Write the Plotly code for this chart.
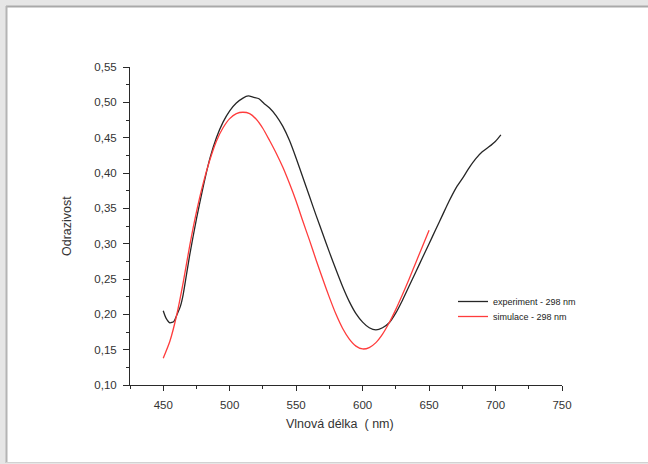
import plotly.graph_objects as go

# ---- data ----
exp_nm = [450, 452, 455, 458, 460, 463, 465, 470, 475, 480, 485, 490, 495, 500, 505,
          510, 514, 518, 522, 526, 530, 535, 540, 545, 550, 555, 560, 565, 570, 575,
          580, 585, 590, 595, 600, 605, 610, 615, 620, 625, 630, 635, 640, 645, 650,
          655, 660, 665, 670, 675, 680, 685, 690, 695, 700, 704]
exp_val = [0.205, 0.195, 0.188, 0.190, 0.198, 0.212, 0.228, 0.285, 0.335, 0.380, 0.420,
           0.450, 0.472, 0.488, 0.499, 0.506, 0.509, 0.507, 0.505, 0.498, 0.492, 0.481,
           0.466, 0.446, 0.421, 0.394, 0.367, 0.340, 0.314, 0.288, 0.263, 0.239, 0.218,
           0.201, 0.189, 0.181, 0.178, 0.181, 0.188, 0.202, 0.220, 0.240, 0.260, 0.280,
           0.300, 0.320, 0.340, 0.360, 0.378, 0.392, 0.407, 0.420, 0.430, 0.437, 0.445,
           0.454]

sim_nm = [450, 455, 460, 465, 470, 475, 480, 485, 490, 495, 500, 505, 510, 515, 520,
          525, 530, 535, 540, 545, 550, 555, 560, 565, 570, 575, 580, 585, 590, 595,
          600, 605, 610, 615, 620, 625, 630, 635, 640, 645, 650]
sim_val = [0.138, 0.162, 0.198, 0.245, 0.298, 0.345, 0.385, 0.418, 0.445, 0.464, 0.477,
           0.484, 0.486, 0.484, 0.476, 0.463, 0.446, 0.428, 0.408, 0.385, 0.360, 0.332,
           0.305, 0.277, 0.250, 0.224, 0.200, 0.180, 0.165, 0.155, 0.151, 0.153, 0.160,
           0.172, 0.188, 0.207, 0.228, 0.250, 0.273, 0.296, 0.319]

series_names = ["experiment - 298 nm", "simulace - 298 nm"]
x_title = "Vlnová délka\u00a0 ( nm)"
y_title = "Odrazivost"

# ---- layout geometry (pixels) ----
W, H = 648, 464
L, T = 130, 67
PW, PH = 432, 318
R = W - L - PW
B = H - T - PH


def px(x):
    return (x - L) / PW


def py(y):
    return (T + PH - y) / PH


FONT = "Liberation Sans, Arial, sans-serif"
AX = "#2a2a2a"

fig = go.Figure()
fig.add_trace(go.Scatter(x=exp_nm, y=exp_val, mode="lines", name=series_names[0], legend="legend",
                         line=dict(color="#262626", width=1.3, shape="spline", smoothing=0.6)))
fig.add_trace(go.Scatter(x=sim_nm, y=sim_val, mode="lines", name=series_names[1], legend="legend2",
                         line=dict(color="#ff3c3c", width=1.3, shape="spline", smoothing=0.6)))

shapes = [
    dict(type="rect", xref="paper", yref="paper", x0=px(7), x1=px(660), y0=py(462), y1=py(7),
         fillcolor="white", line=dict(width=0), layer="below"),
    dict(type="line", xref="paper", yref="paper", x0=px(6), x1=px(660), y0=py(6.5), y1=py(6.5),
         line=dict(color="#a9a9a9", width=2), layer="below"),
    dict(type="line", xref="paper", yref="paper", x0=px(6.5), x1=px(6.5), y0=py(463), y1=py(6),
         line=dict(color="#b4b4b4", width=2), layer="below"),
    dict(type="line", xref="paper", yref="paper", x0=px(6), x1=px(660), y0=py(462.5), y1=py(462.5),
         line=dict(color="#d2d2d2", width=1), layer="below"),
]

annotations = [
    dict(text=x_title, xref="paper", yref="paper", x=px(340), y=py(424), showarrow=False,
         xanchor="center", yanchor="middle", font=dict(family=FONT, size=12.5, color="#333")),
    dict(text=y_title, xref="paper", yref="paper", x=px(67), y=py(226), showarrow=False,
         textangle=-90, xanchor="center", yanchor="middle",
         font=dict(family=FONT, size=12.5, color="#333")),
]

leg_common = dict(xanchor="left", yanchor="top", bgcolor="rgba(0,0,0,0)", borderwidth=0,
                  font=dict(family=FONT, size=9, color="#222"))

fig.update_layout(
    width=W, height=H,
    margin=dict(l=L, r=R, t=T, b=B, pad=0),
    paper_bgcolor="#e6e6e6",
    plot_bgcolor="rgba(0,0,0,0)",
    separators=", ",
    showlegend=True,
    legend=dict(x=px(453), y=py(287), **leg_common),
    legend2=dict(x=px(453), y=py(302), **leg_common),
    shapes=shapes,
    annotations=annotations,
    xaxis=dict(range=[425, 750], tick0=450, dtick=50, showgrid=False, zeroline=False,
               showline=True, linecolor=AX, linewidth=1, ticks="outside", ticklen=5,
               tickwidth=1, tickcolor=AX, ticklabelstandoff=4,
               minor=dict(dtick=25, tick0=425, ticks="outside", ticklen=3, tickcolor=AX, showgrid=False),
               tickfont=dict(family=FONT, size=11.5, color="#333"), fixedrange=True),
    yaxis=dict(range=[0.10, 0.55], tick0=0.10, dtick=0.05, tickformat=".2f", showgrid=False,
               zeroline=False, showline=True, linecolor=AX, linewidth=1, ticks="outside",
               ticklen=6, tickwidth=1, tickcolor=AX, ticklabelstandoff=4,
               minor=dict(dtick=0.025, tick0=0.10, ticks="outside", ticklen=3, tickcolor=AX, showgrid=False),
               tickfont=dict(family=FONT, size=11.5, color="#333"), fixedrange=True),
)

fig.write_html("out.html")
